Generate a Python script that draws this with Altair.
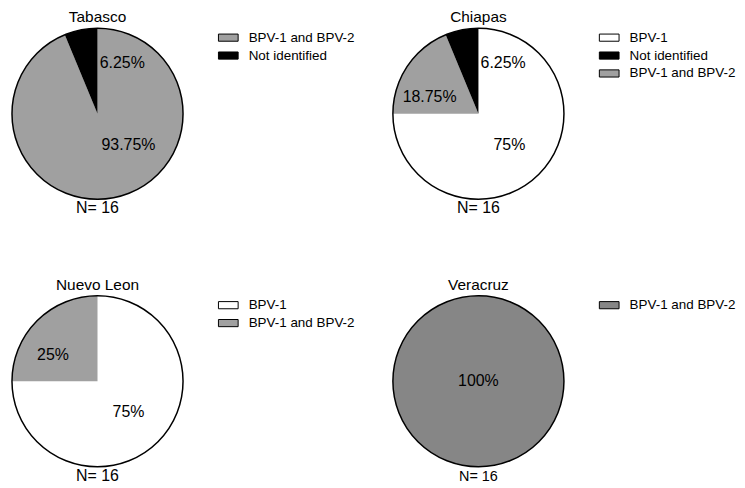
import altair as alt
import pandas as pd

# ---- data ----
states = ["Tabasco", "Chiapas", "Nuevo Leon", "Veracruz"]
n_samples = [16, 16, 16, 16]

tabasco_cats = ["BPV-1 and BPV-2", "Not identified"]
tabasco_pct = [93.75, 6.25]
chiapas_cats = ["BPV-1", "BPV-1 and BPV-2", "Not identified"]
chiapas_pct = [75, 18.75, 6.25]
nuevo_leon_cats = ["BPV-1", "BPV-1 and BPV-2"]
nuevo_leon_pct = [75, 25]
veracruz_cats = ["BPV-1 and BPV-2"]
veracruz_pct = [100]

legend_orders = [
    ["BPV-1 and BPV-2", "Not identified"],
    ["BPV-1", "Not identified", "BPV-1 and BPV-2"],
    ["BPV-1", "BPV-1 and BPV-2"],
    ["BPV-1 and BPV-2"],
]

palette_light = {"BPV-1": "#ffffff", "Not identified": "#000000", "BPV-1 and BPV-2": "#a0a0a0"}
palette_dark = {"BPV-1": "#ffffff", "Not identified": "#000000", "BPV-1 and BPV-2": "#868686"}
palettes = [palette_light, palette_light, palette_light, palette_dark]
n_font = [16, 16, 16, 14.5]

cats_all = [tabasco_cats, chiapas_cats, nuevo_leon_cats, veracruz_cats]
pct_all = [tabasco_pct, chiapas_pct, nuevo_leon_pct, veracruz_pct]

# ---- styling ----
SIZE = 172
R = SIZE / 2
FONT = "Liberation Sans"
RECT = "M-1.1,-0.4H1.1V0.4H-1.1Z"


def panel(state, cats, pct, order, palette, n, nfs):
    df = pd.DataFrame({"cat": cats, "pct": pct, "k": list(range(len(cats)))})
    df["label"] = [f"{p:g}%" for p in pct]
    base = alt.Chart(df)
    tscale = alt.Scale(domain=[0, 100])

    color = alt.Color(
        "cat:N",
        title=None,
        scale=alt.Scale(domain=order, range=[palette[c] for c in order]),
        legend=alt.Legend(
            symbolType=RECT, symbolStrokeColor="black", symbolStrokeWidth=1,
        ),
    )

    slices = base.mark_arc(outerRadius=R).encode(
        theta=alt.Theta("pct:Q", stack=True, scale=tscale),
        color=color,
        order=alt.Order("k:Q"),
    )

    outline = base.transform_aggregate(total="sum(pct)").mark_arc(
        outerRadius=R, fillOpacity=0, stroke="black", strokeWidth=1.5
    ).encode(theta=alt.Theta("total:Q", stack=True, scale=tscale))

    lab = base.transform_window(
        cum="sum(pct)", sort=[alt.SortField("k", order="ascending")], frame=[None, 0]
    ).transform_calculate(mid="datum.cum - datum.pct / 2")

    txt = dict(font=FONT, fontSize=16, color="black", align="center", baseline="middle")

    big = lab.transform_filter("datum.pct >= 50 && datum.pct < 100").transform_calculate(
        lt="min(datum.mid, 37.5)"
    ).mark_text(radius=44, **txt).encode(
        theta=alt.Theta("lt:Q", stack=False, scale=tscale), text="label:N"
    )
    medium = lab.transform_filter("datum.pct >= 10 && datum.pct < 50").transform_calculate(
        lt="datum.mid - 4"
    ).mark_text(radius=52, **txt).encode(
        theta=alt.Theta("lt:Q", stack=False, scale=tscale), text="label:N"
    )
    small = lab.transform_filter("datum.pct < 10").mark_text(radius=52, dx=35, **txt).encode(
        theta=alt.Theta("mid:Q", stack=False, scale=tscale), text="label:N"
    )
    full = lab.transform_filter("datum.pct >= 100").mark_text(radius=0, **txt).encode(
        theta=alt.Theta("mid:Q", stack=False, scale=tscale), text="label:N"
    )

    hdf = pd.DataFrame({"state": [state], "n_label": [f"N= {n}"]})
    title_text = alt.Chart(hdf).mark_text(
        font=FONT, fontSize=15.5, color="black", align="center", baseline="top"
    ).encode(text="state:N", x=alt.value(R), y=alt.value(-18))
    n_text = alt.Chart(hdf).mark_text(
        font=FONT, fontSize=nfs, color="black", align="center", baseline="alphabetic"
    ).encode(text="n_label:N", x=alt.value(R), y=alt.value(SIZE + 14))

    return alt.layer(slices, outline, big, medium, small, full, title_text, n_text).properties(
        width=SIZE, height=SIZE
    )


panels = [
    panel(states[i], cats_all[i], pct_all[i], legend_orders[i], palettes[i],
          n_samples[i], n_font[i])
    for i in range(4)
]

chart = alt.concat(
    *panels, columns=2, spacing={"row": 97, "column": 211}, bounds="flush"
).resolve_scale(color="independent", theta="independent").resolve_legend(
    color="independent"
).properties(padding=0).configure(font=FONT).configure_view(
    stroke="transparent"
).configure_legend(
    orient="right", offset=36, padding=0, symbolSize=324, labelFont=FONT,
    labelFontSize=13.5, labelOffset=11, rowPadding=2, labelColor="black",
)

chart.save("out.html", embed_options={"renderer": "svg", "actions": False})
